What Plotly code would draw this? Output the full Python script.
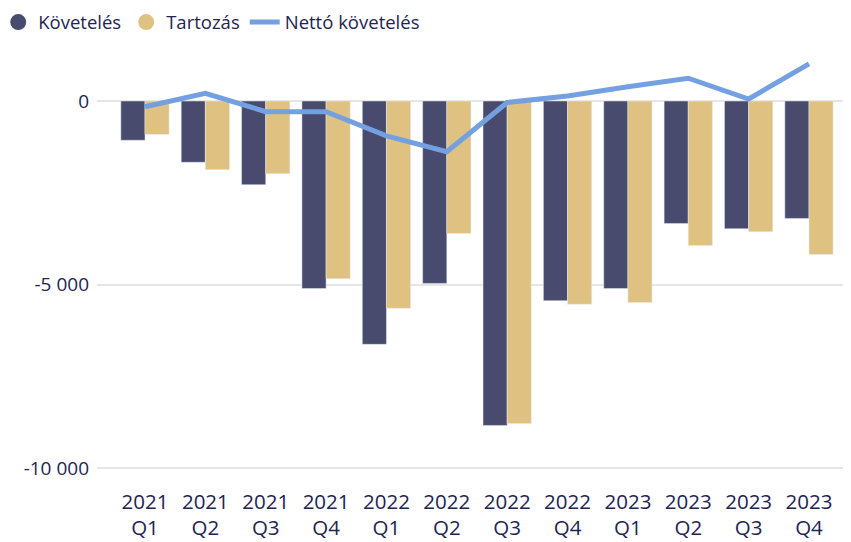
import plotly.graph_objects as go

categories = ["2021<br>Q1", "2021<br>Q2", "2021<br>Q3", "2021<br>Q4",
              "2022<br>Q1", "2022<br>Q2", "2022<br>Q3", "2022<br>Q4",
              "2023<br>Q1", "2023<br>Q2", "2023<br>Q3", "2023<br>Q4"]
koveteles = [-1070, -1670, -2280, -5110, -6630, -4970, -8840, -5440, -5110, -3340, -3480, -3200]
tartozas = [-910, -1870, -1980, -4840, -5650, -3610, -8790, -5540, -5490, -3940, -3560, -4180]
netto = [-155, 210, -290, -290, -950, -1380, -40, 135, 390, 620, 55, 1010]
ytick_vals = [0, -5000, -10000]
ytick_text = ["0", "-5 000", "-10 000"]

C_K = "#484a6e"
C_T = "#dfc281"
C_N = "#74a0e2"
TXT = "#1e2453"
FONT = "Open Sans"

fig = go.Figure()
fig.add_trace(go.Bar(x=categories, y=koveteles, name="Követelés", marker_color=C_K,
                     showlegend=False))
fig.add_trace(go.Bar(x=categories, y=tartozas, name="Tartozás", marker_color=C_T,
                     showlegend=False))
# legend entries with circle markers
fig.add_trace(go.Scatter(x=[None], y=[None], mode="markers", name="Követelés",
                         marker=dict(symbol="circle", size=19, color=C_K)))
fig.add_trace(go.Scatter(x=[None], y=[None], mode="markers", name="Tartozás",
                         marker=dict(symbol="circle", size=19, color=C_T)))
fig.add_trace(go.Scatter(x=categories, y=netto, mode="lines", name="Nettó követelés",
                         line=dict(color=C_N, width=5)))

# page body has an 8px margin, so the figure is sized / placed to compensate
fig.update_layout(
    width=843, height=534,
    margin=dict(l=89, r=0, t=37, b=65, autoexpand=False),
    paper_bgcolor="white", plot_bgcolor="white",
    font=dict(family=FONT, size=19, color=TXT),
    barmode="group", bargap=0.2, bargroupgap=0,
    showlegend=True,
    legend=dict(orientation="h", x=-0.131, xref="paper", xanchor="left",
                y=1.052, yref="paper", yanchor="middle",
                font=dict(size=18.5, color=TXT), itemwidth=30,
                traceorder="normal", bgcolor="rgba(0,0,0,0)"),
)
fig.update_xaxes(range=[-0.795, 11.696], showgrid=False, showline=False,
                 ticks="", tickfont=dict(size=20.5, color=TXT), tickangle=0,
                 ticklabelstandoff=10, automargin=False)
fig.update_yaxes(range=[-10245, 1526], tickvals=ytick_vals, ticktext=ytick_text,
                 showgrid=True, gridcolor="#e6e6e6", gridwidth=2,
                 zeroline=True, zerolinecolor="#e6e6e6", zerolinewidth=2,
                 showline=False, ticks="", ticklabelstandoff=7,
                 tickfont=dict(size=19, color=TXT), automargin=False)

fig.write_html("out.html")
